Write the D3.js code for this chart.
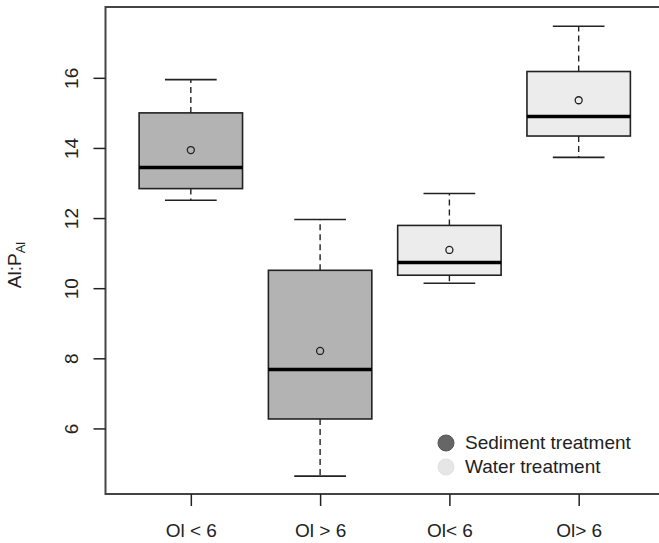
<!DOCTYPE html>
<html>
<head>
<meta charset="utf-8">
<script src="https://cdn.jsdelivr.net/npm/d3@7"></script>
<style>
  body { margin: 0; background: #fff; }
  svg { font-family: "Liberation Sans", Arial, sans-serif; }
</style>
</head>
<body>
<div id="chart"></div>
<script>
// group labels and the five-number summaries
const groups = ["Ol < 6", "Ol > 6", "Ol< 6", "Ol> 6"];
const treatment = ["Sediment", "Sediment", "Water", "Water"];
const whiskerLow = [12.51, 4.64, 10.14, 13.73];
const q1 = [12.84, 6.27, 10.37, 14.34];
const median = [13.44, 7.68, 10.73, 14.90];
const q3 = [15.0, 10.51, 11.79, 16.18];
const whiskerHigh = [15.95, 11.96, 12.70, 17.47];
const means = [13.94, 8.21, 11.09, 15.36];
const yTicks = [6, 8, 10, 12, 14, 16];
const legendLabels = ["Sediment treatment", "Water treatment"];

const fills = {Sediment: "#b3b3b3", Water: "#ececec"};
const legendDots = ["#666666", "#e6e6e6"];

const W = 659, H = 543;
const plot = {left: 105.5, right: 664, top: 7, bottom: 494};

const svg = d3.select("#chart").append("svg")
    .attr("width", W)
    .attr("height", H);

const x = d3.scaleLinear()
    .domain([0.34, groups.length + 0.66])
    .range([plot.left, plot.right]);
const y = d3.scaleLinear()
    .domain([4.13, 18.02])
    .range([plot.bottom, plot.top]);

const data = groups.map((g, i) => ({
    name: g,
    pos: i + 1,
    fill: fills[treatment[i]],
    lo: whiskerLow[i], q1: q1[i], med: median[i], q3: q3[i], hi: whiskerHigh[i], mean: means[i]
}));

const boxHalf = 0.4, capHalf = 0.2;

const boxes = svg.append("g").selectAll("g")
    .data(data)
    .enter()
    .append("g");

// whiskers (dashed)
boxes.append("line")
    .attr("x1", d => x(d.pos)).attr("x2", d => x(d.pos))
    .attr("y1", d => y(d.q3)).attr("y2", d => y(d.hi))
    .attr("stroke", "#222").attr("stroke-width", 1.4)
    .attr("stroke-dasharray", "6,4");
boxes.append("line")
    .attr("x1", d => x(d.pos)).attr("x2", d => x(d.pos))
    .attr("y1", d => y(d.q1)).attr("y2", d => y(d.lo))
    .attr("stroke", "#222").attr("stroke-width", 1.4)
    .attr("stroke-dasharray", "6,4");
// caps
boxes.selectAll(".cap")
    .data(d => [d.hi, d.lo].map(v => ({pos: d.pos, v: v})))
    .enter()
    .append("line")
    .attr("class", "cap")
    .attr("x1", d => x(d.pos - capHalf)).attr("x2", d => x(d.pos + capHalf))
    .attr("y1", d => y(d.v)).attr("y2", d => y(d.v))
    .attr("stroke", "#222").attr("stroke-width", 1.6);

// box
boxes.append("rect")
    .attr("x", d => x(d.pos - boxHalf))
    .attr("width", d => x(d.pos + boxHalf) - x(d.pos - boxHalf))
    .attr("y", d => y(d.q3))
    .attr("height", d => y(d.q1) - y(d.q3))
    .attr("fill", d => d.fill)
    .attr("stroke", "#222").attr("stroke-width", 1.6);

// median
boxes.append("line")
    .attr("x1", d => x(d.pos - boxHalf)).attr("x2", d => x(d.pos + boxHalf))
    .attr("y1", d => y(d.med)).attr("y2", d => y(d.med))
    .attr("stroke", "#000").attr("stroke-width", 3.5);

// mean
boxes.append("circle")
    .attr("cx", d => x(d.pos))
    .attr("cy", d => y(d.mean))
    .attr("r", 3.5)
    .attr("fill", "none")
    .attr("stroke", "#222").attr("stroke-width", 1.3);

// frame
svg.append("rect")
    .attr("x", plot.left).attr("y", plot.top)
    .attr("width", plot.right - plot.left)
    .attr("height", plot.bottom - plot.top)
    .attr("fill", "none")
    .attr("stroke", "#444").attr("stroke-width", 2);

// y axis
const yAxis = svg.append("g")
    .attr("transform", `translate(${plot.left},0)`)
    .call(d3.axisLeft(y).tickValues(yTicks).tickSize(12).tickPadding(0).tickFormat(d3.format("d")));
yAxis.select(".domain").remove();
yAxis.selectAll("line").attr("stroke", "#222").attr("stroke-width", 1.5);
yAxis.selectAll("text")
    .attr("x", 0).attr("dy", 0)
    .attr("transform", "translate(-33,0) rotate(-90)")
    .attr("text-anchor", "middle")
    .attr("dominant-baseline", "middle")
    .style("font-size", "19px")
    .style("font-family", "Liberation Sans, Arial, sans-serif")
    .attr("fill", "#222");

// x axis
const xAxis = svg.append("g")
    .attr("transform", `translate(0,${plot.bottom})`)
    .call(d3.axisBottom(x).tickValues(data.map(d => d.pos)).tickSize(12).tickPadding(18)
        .tickFormat((d, i) => groups[i]));
xAxis.select(".domain").remove();
xAxis.selectAll("line").attr("stroke", "#222").attr("stroke-width", 1.5);
xAxis.selectAll("text")
    .style("font-size", "19px")
    .style("font-family", "Liberation Sans, Arial, sans-serif")
    .attr("fill", "#222");

// y label
const ylab = svg.append("text")
    .attr("transform", "translate(21,265) rotate(-90)")
    .attr("text-anchor", "middle")
    .style("font-size", "19px")
    .attr("fill", "#222");
ylab.append("tspan").text("Al:P");
ylab.append("tspan").attr("dy", 4).style("font-size", "13px").text("Al");

// legend
const legend = svg.append("g").attr("transform", "translate(446,443)");
legend.selectAll("circle")
    .data(legendLabels)
    .enter()
    .append("circle")
    .attr("cx", 0)
    .attr("cy", (d, i) => i * 24)
    .attr("r", 8)
    .attr("fill", (d, i) => legendDots[i])
    .attr("stroke", (d, i) => i === 0 ? "#555" : "#e0e0e0");
legend.selectAll("text")
    .data(legendLabels)
    .enter()
    .append("text")
    .attr("x", 19)
    .attr("y", (d, i) => i * 24 + 1)
    .attr("dominant-baseline", "middle")
    .style("font-size", "19px")
    .attr("fill", "#222")
    .text(d => d);
</script>
</body>
</html>
